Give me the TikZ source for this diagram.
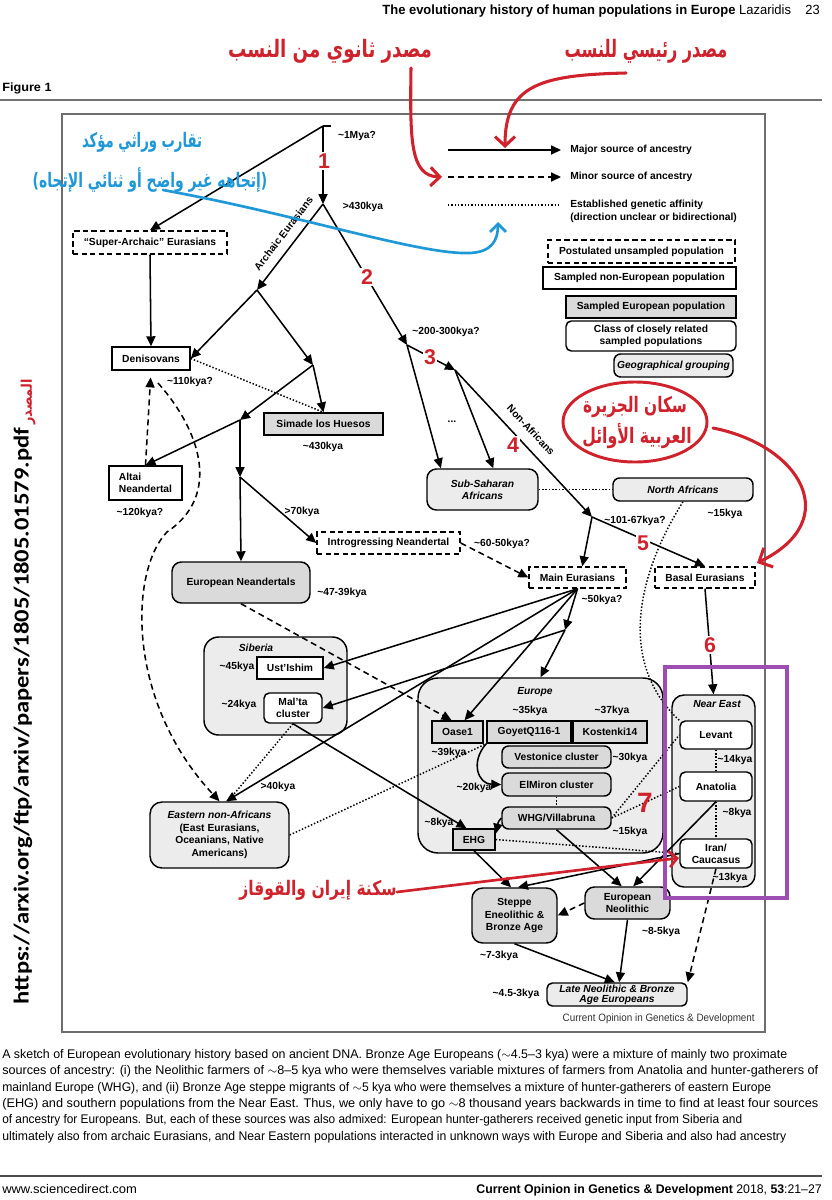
\documentclass[tikz,border=0pt]{standalone}
\usepackage{fontspec}
\usepackage{graphicx}
\setmainfont{Liberation Sans}
\newfontfamily\arabicfont[Script=Arabic]{DejaVu Sans}
\newfontfamily\urlfont{Carlito}
\TeXXeTstate=1
\usetikzlibrary{arrows.meta,calc,shapes.geometric}
\definecolor{annred}{RGB}{208,34,44}
\definecolor{annblue}{RGB}{30,152,214}
\definecolor{annpurple}{RGB}{156,78,178}
\definecolor{eugray}{RGB}{218,218,218}
\definecolor{patt}{RGB}{236,236,236}
\definecolor{framegray}{RGB}{110,110,110}
\newlength\fitlen
\newlength\fitlenb
\newsavebox\fitbox
\newcommand\fitto[2]{\sbox\fitbox{#2}\setlength\fitlen{#1}\setlength\fitlenb{\wd\fitbox}\pgfmathsetmacro\fitsc{\fitlen/\fitlenb}\scalebox{\fitsc}[1]{\usebox\fitbox}}
\newcommand\nf{\fontsize{7.7}{9.2}\selectfont\bfseries}
\newcommand\tld{\textasciitilde}
\tikzset{
 every node/.style={font=\nf, inner sep=0pt, align=center},
 sz/.style 2 args={minimum width=#1*0.75pt, minimum height=#2*0.75pt},
 bx/.style={draw, line width=1.1pt},
 unsamp/.style={bx, fill=white, dash pattern=on 4pt off 2.4pt},
 nonEU/.style={bx, fill=white},
 EU/.style={bx, fill=eugray},
 clsbox/.style={bx, fill=white, rounded corners=4pt},
 clsEU/.style={bx, fill=eugray, rounded corners=5pt},
 geo/.style={bx, fill=patt, rounded corners=5pt, font=\nf\itshape},
 grp/.style={bx, fill=patt},
 sarr/.style={line width=1.15pt, -{Triangle[length=7.5pt,width=6.8pt]}},
 darr/.style={sarr, dash pattern=on 4.5pt off 3pt},
 dotl/.style={line width=1.1pt, dash pattern=on 1.1pt off 1.4pt},
 rnum/.style={text=annred, font=\fontsize{16}{16}\selectfont\bfseries, fill=white, inner sep=1pt},
 ann/.style={line width=2.3pt, line cap=round},
 capl/.style={anchor=mid west},
}
\begin{document}
\begin{tikzpicture}[x=0.75pt,y=-0.75pt]
\useasboundingbox (0,0) rectangle (832,1200);
\fill[white] (0,0) rectangle (832,1200);

% ---------- page header ----------
\node[anchor=east] (hdr) at (820,11) {\fitto{328pt}{\fontsize{10}{12}\selectfont\textbf{The evolutionary history of human populations in Europe} \mdseries Lazaridis\hspace{1.1em}23}};
\node[anchor=west] (fig) at (2,88) {\fitto{37pt}{\fontsize{9}{11}\selectfont\bfseries Figure 1}};
\coordinate (hl0) at (0,100); \coordinate (hl1) at (822,100);
\draw[black!55, line width=1pt] (hl0) -- (hl1);

% ---------- frame ----------
\draw[framegray, line width=1pt] (62,114) rectangle (765,1032);
\node[anchor=east] (credit) at (755,1019) {\fitto{144pt}{\fontsize{8}{10}\selectfont\mdseries\color{black!80}Current Opinion in Genetics \& Development}};

% ---------- legend ----------
\coordinate (lg1a) at (448,150); \coordinate (lg1b) at (561,150);
\coordinate (lg2a) at (448,177); \coordinate (lg2b) at (561,177);
\coordinate (lg3a) at (448,205); \coordinate (lg3b) at (561,205);
\draw[sarr] (lg1a) -- (lg1b);
\draw[darr] (lg2a) -- (lg2b);
\draw[dotl] (lg3a) -- (lg3b);
\node[anchor=west] (lgt1) at (570,150) {Major source of ancestry};
\node[anchor=west] (lgt2) at (570,177) {Minor source of ancestry};
\node[anchor=west, align=left, font=\fontsize{7.7}{9.7}\selectfont\bfseries] (lgt3) at (570,211.5) {Established genetic affinity\\(direction unclear or bidirectional)};
\node[unsamp, sz={187}{23}] (lgp) at (641.5,251.5) {Postulated unsampled population};
\node[nonEU, sz={193}{22}] (lgn) at (639.5,278) {Sampled non-European population};
\node[EU, sz={170}{22}] (lge) at (651,307) {Sampled European population};
\node[clsbox, sz={170}{30}] (lgc) at (651,336) {Class of closely related\\sampled populations};
\node[geo, sz={119}{23}] (lgg) at (673.5,365.5) {Geographical grouping};

% ---------- group boxes ----------
\node[grp, rounded corners=11pt, sz={143}{98}] (siberia) at (275.5,686) {};
\node[font=\nf\itshape] (sibt) at (256,648) {Siberia};
\node[grp, rounded corners=15pt, sz={245}{175}] (europe) at (540.5,765.5) {};
\node[font=\nf\itshape] (eurt) at (535,692) {Europe};
\node[grp, rounded corners=9pt, sz={83}{192}] (neareast) at (713.5,791) {};
\node[font=\nf\itshape] (net) at (717,704) {Near East};

% ---------- population nodes ----------
\node[unsamp, sz={154}{23}] (superarch) at (150,242.5) {“Super-Archaic” Eurasians};
\node[nonEU, sz={78}{23}] (deniso) at (151,358.5) {Denisovans};
\node[EU, sz={119}{22}] (sima) at (323.5,424) {Simade los Huesos};
\node[nonEU, sz={73}{34}, align=left] (altai) at (145.5,483) {Altai\\Neandertal};
\node[clsEU, rounded corners=7pt, sz={138}{41}] (eurnean) at (241,582.5) {European Neandertals};
\node[unsamp, sz={143}{22}] (intro) at (388.5,543) {Introgressing Neandertal};
\node[unsamp, sz={97}{21}] (maineur) at (577.5,577.5) {Main Eurasians};
\node[unsamp, sz={100}{21}] (basal) at (705,577.5) {Basal Eurasians};
\node[geo, rounded corners=7pt, sz={111}{41}] (subsah) at (482.5,489.5) {Sub-Saharan\\Africans};
\node[geo, sz={140}{23}] (northaf) at (683,489.5) {North Africans};
\node[nonEU, sz={66}{22}] (ustishim) at (290,668) {Ust’Ishim};
\node[clsbox, sz={58}{30}] (malta) at (293,708) {Mal’ta\\cluster};
\node[grp, rounded corners=9pt, sz={139}{66}, font=\fontsize{7.7}{9.4}\selectfont\bfseries] (eastnon) at (219.5,835) {{\itshape Eastern non-Africans}\\(East Eurasians,\\Oceanians, Native\\Americans)};
\node[EU, sz={51}{22}] (oase) at (457.5,732) {Oase1};
\node[EU, sz={84}{22}] (goyet) at (529,732) {GoyetQ116-1};
\node[EU, sz={74}{22}] (kost) at (610,732) {Kostenki14};
\node[clsEU, sz={109}{22}] (vest) at (556.5,757) {Vestonice cluster};
\node[clsEU, sz={109}{23}] (elmiron) at (556.5,784.5) {ElMiron cluster};
\node[clsEU, sz={109}{22}] (whg) at (556.5,818) {WHG/Villabruna};
\node[EU, sz={42}{21}] (ehg) at (474,839.5) {EHG};
\node[clsbox, sz={72}{28}] (levant) at (716,735) {Levant};
\node[clsbox, sz={72}{29}] (anatolia) at (716,786.5) {Anatolia};
\node[clsbox, sz={72}{29}] (iran) at (716,853.5) {Iran/\\Caucasus};
\node[clsEU, rounded corners=8pt, sz={85}{55}] (steppe) at (514.5,915.5) {Steppe\\Eneolithic \&\\Bronze Age};
\node[clsEU, rounded corners=7pt, sz={85}{32}] (eurneo) at (627.5,903) {European\\Neolithic};
\node[geo, rounded corners=4pt, sz={140}{23}, font=\fontsize{7.7}{7.7}\selectfont\bfseries\itshape] (lateneo) at (617,994.5) {Late Neolithic \& Bronze\\Age Europeans};

% ---------- time labels ----------
\node (l1mya) at (357,136) {\tld1Mya?};
\node (l430) at (363,207) {>430kya};
\node (l200) at (446,332) {\tld200-300kya?};
\node (l110) at (190,382) {\tld110kya?};
\node (l430b) at (323,447) {\tld430kya};
\node (l120) at (140,513) {\tld120kya?};
\node (l70) at (302,512) {>70kya};
\node (l6050) at (502,544) {\tld60-50kya?};
\node (l4739) at (342,593) {\tld47-39kya};
\node (l50) at (602,600) {\tld50kya?};
\node (l10167) at (635,521) {\tld101-67kya?};
\node (l15a) at (725,514) {\tld15kya};
\node (l45) at (237,667) {\tld45kya};
\node (l24) at (239,705) {\tld24kya};
\node (l40) at (278,787) {>40kya};
\node (l35) at (530,711) {\tld35kya};
\node (l37) at (612,711) {\tld37kya};
\node (l39) at (449,753) {\tld39kya};
\node (l30) at (630,758) {\tld30kya};
\node (l20) at (474,788) {\tld20kya};
\node (l8a) at (439,823) {\tld8kya};
\node (l15b) at (630,832) {\tld15kya};
\node (l14) at (735,760) {\tld14kya};
\node (l8b) at (737,813) {\tld8kya};
\node (l13) at (730,878) {\tld13kya};
\node (l85) at (661,932) {\tld8-5kya};
\node (l73) at (499,956) {\tld7-3kya};
\node (l453) at (516,994) {\tld4.5-3kya};
\node (dots) at (452,422) {...};
\node[rotate=52.5] (archlab) at (283.5,233.5) {Archaic Eurasians};
\node[rotate=-47] (nonaflab) at (531,430) {Non-Africans};

% ---------- branch points ----------
\coordinate (root) at (323,126);
\coordinate (rootr) at (331,126);
\coordinate (A) at (323,204);
\coordinate (B) at (257,290);
\coordinate (C) at (407,345);
\coordinate (D) at (313,365);
\coordinate (E) at (240,420);
\coordinate (F) at (240,477);
\coordinate (G) at (455,370);
\coordinate (H) at (592,517);
\coordinate (I) at (565,630);
\coordinate (dc0) at (158,383);

% ---------- connectors ----------
\draw[line width=1.1pt] (root) -- (rootr);
\draw[sarr] (root) -- (A);
\draw[sarr] (root) -- (superarch.north);
\draw[sarr] (A) -- (B);
\draw[sarr] (A) -- (C);
\draw[sarr] (superarch.south) -- (deniso.north);
\draw[sarr] (B) -- (deniso.east);
\draw[sarr] (B) -- (D);
\draw[sarr] (D) -- (sima.north);
\draw[sarr] (D) -- (E);
\draw[sarr] (E) -- (altai.north);
\draw[sarr] (E) -- (F);
\draw[sarr] (F) -- (eurnean.north);
\draw[sarr] (F) -- (intro.west);
\draw[dotl] (deniso.east) -- (sima.north);
\draw[darr, shorten >=5pt] (altai.north) -- (deniso.south);
\draw[darr] (dc0) .. controls (200,430) and (222,495) .. (167,532) .. controls (130,570) and (125,700) .. (eastnon.north);
\draw[darr] (intro.east) -- (maineur.west);
\draw[sarr] (C) -- (subsah.153);
\draw[sarr] (C) -- (G);
\draw[sarr] (G) -- (subsah.63);
\draw[sarr] (G) -- (H);
\draw[dotl] (subsah.east) -- (northaf.west);
\draw[sarr] (H) -- (maineur.67);
\draw[sarr] (H) -- (basal.north);
\draw[sarr] (basal.south) -- (neareast.north);
\draw[dotl] (northaf.south) .. controls (640,570) and (615,660) .. (levant.north west);
\draw[sarr] (maineur.south) -- (ustishim.east);
\draw[sarr] (maineur.south) -- (eastnon.79);
\draw[sarr] (maineur.south) -- (oase.59);
\draw[sarr] (maineur.south) -- (I);
\draw[sarr] (I) -- (europe.north);
\draw[sarr] (I) -- (malta.east);
\draw[darr] (eurnean.south) -- (oase.117);
\draw[dotl] (malta.south) -- (eastnon.76);
\draw[sarr] (malta.south) -- (ehg.124);
\draw[dotl] (eastnon.east) -- (goyet.south west);
\draw[sarr] (goyet.south west) .. controls (470,762) and (478,784) .. (elmiron.west);
\draw[dotl] (elmiron.south) -- (whg.north);
\draw[sarr] (whg.west) .. controls (497,822) and (497,828) .. (ehg.15);
\draw[dotl] (ehg.east) -- (iran.west);
\draw[dotl] (whg.east) -- (levant.west);
\draw[dotl] (whg.east) -- (anatolia.west);
\draw[dotl] (levant.south) -- (anatolia.north);
\draw[dotl] (anatolia.south) -- (iran.north);
\draw[sarr] (ehg.south) -- (steppe.97);
\draw[sarr] (whg.south) -- (eurneo.109);
\draw[sarr] (anatolia.south) -- (eurneo.71);
\draw[sarr] (iran.west) -- (steppe.83);
\draw[darr] (eurneo.west) -- (steppe.east);
\draw[sarr] (steppe.south) -- (lateneo.100);
\draw[sarr] (eurneo.south) -- (lateneo.80);
\draw[darr] (iran.south) -- (lateneo.north east);

% ---------- red step numbers ----------
\node[rnum] (n1) at (324,161) {1};
\node[rnum] (n2) at (367,277) {2};
\node[rnum] (n3) at (430,357) {3};
\node[rnum] (n4) at (513,445) {4};
\node[rnum] (n5) at (643,543) {5};
\node[rnum] (n6) at (710,645) {6};
\node[rnum, fill=none, font=\fontsize{21}{21}\selectfont\bfseries] (n7) at (645,803) {7};

% ---------- annotations ----------
\node[text=annred] (ar1) at (330,51) {\fitto{153pt}{\arabicfont\bfseries\fontsize{18}{20}\selectfont\beginR مصدر ثانوي من النسب\endR}};
\node[text=annred] (ar2) at (646,51) {\fitto{122pt}{\arabicfont\bfseries\fontsize{18}{20}\selectfont\beginR مصدر رئيسي للنسب\endR}};
\coordinate (ra0) at (411,68); \coordinate (ra1) at (442,177);
\draw[ann, annred, -{Straight Barb[length=7pt,width=14pt]}] (ra0) .. controls (410,140) and (410,176) .. (ra1);
\coordinate (rb0) at (626,73); \coordinate (rb1) at (505,148);
\draw[ann, annred, -{Straight Barb[length=7pt,width=15pt]}] (rb0) .. controls (540,75) and (505,85) .. (rb1);

\node[text=annblue] (bl1) at (142,142) {\fitto{90pt}{\arabicfont\bfseries\fontsize{15}{18}\selectfont\beginR تقارب وراثي مؤكد\endR}};
\node[text=annblue] (bl2) at (150,180) {\fitto{176pt}{\arabicfont\bfseries\fontsize{15}{18}\selectfont\beginR (إتجاهه غير واضح أو ثنائي الإتجاه)\endR}};
\coordinate (ba0) at (163,190); \coordinate (ba1) at (470,253); \coordinate (ba2) at (498,222);
\draw[ann, annblue, line width=2pt, -{Straight Barb[length=6pt,width=12pt]}] (ba0) .. controls (300,215) and (420,255) .. (ba1) .. controls (492,252) and (498,240) .. (ba2);

\node[draw=annred, line width=2.2pt, ellipse, sz={144}{80}] (ell) at (635,422) {};
\node[text=annred] (el1) at (635,407) {\fitto{78pt}{\arabicfont\bfseries\fontsize{16}{18}\selectfont\beginR سكان الجزيرة\endR}};
\node[text=annred] (el2) at (637,436) {\fitto{82pt}{\arabicfont\bfseries\fontsize{16}{18}\selectfont\beginR العربية الأوائل\endR}};
\coordinate (re0) at (713,428); \coordinate (re1) at (757,563);
\draw[ann, annred, -{Straight Barb[length=8pt,width=16pt]}] (re0) .. controls (800,445) and (845,520) .. (re1);

\draw[annpurple, line width=3pt] (665,667) rectangle (787,898);

\node[text=annred] (ir) at (318,890) {\fitto{118pt}{\arabicfont\bfseries\fontsize{15}{18}\selectfont\beginR سكنة إيران والقوقاز\endR}};
\coordinate (rc0) at (397,892); \coordinate (rc1) at (679,858);
\draw[ann, annred, line width=2pt, -{Straight Barb[length=6pt,width=12pt]}] (rc0) -- (rc1);

% ---------- side source ----------
\node[rotate=90] (url) at (23,716) {\fitto{432pt}{\urlfont\bfseries\fontsize{16}{18}\selectfont https://arxiv.org/ftp/arxiv/papers/1805/1805.01579.pdf}};
\node[rotate=90, text=annred] (src) at (28,402) {\fitto{34pt}{\arabicfont\fontsize{11}{13}\selectfont\beginR المصدر\endR}};

% ---------- caption ----------
\node[capl] (c1) at (2,1055) {\fitto{588.75pt}{\fontsize{9.4}{11}\selectfont\mdseries A sketch of European evolutionary history based on ancient DNA. Bronze Age Europeans ($\sim$4.5–3 kya) were a mixture of mainly two proximate}};
\node[capl] (c2) at (2,1071.3) {\fitto{612pt}{\fontsize{9.4}{11}\selectfont\mdseries sources of ancestry: (i) the Neolithic farmers of $\sim$8–5 kya who were themselves variable mixtures of farmers from Anatolia and hunter-gatherers of}};
\node[capl] (c3) at (2,1087.6) {\fitto{576.75pt}{\fontsize{9.4}{11}\selectfont\mdseries mainland Europe (WHG), and (ii) Bronze Age steppe migrants of $\sim$5 kya who were themselves a mixture of hunter-gatherers of eastern Europe}};
\node[capl] (c4) at (2,1103.9) {\fitto{612pt}{\fontsize{9.4}{11}\selectfont\mdseries (EHG) and southern populations from the Near East. Thus, we only have to go $\sim$8 thousand years backwards in time to find at least four sources}};
\node[capl] (c5) at (2,1120.2) {\fitto{555pt}{\fontsize{9.4}{11}\selectfont\mdseries of ancestry for Europeans. But, each of these sources was also admixed: European hunter-gatherers received genetic input from Siberia and}};
\node[capl] (c6) at (2,1136.5) {\fitto{588pt}{\fontsize{9.4}{11}\selectfont\mdseries ultimately also from archaic Eurasians, and Near Eastern populations interacted in unknown ways with Europe and Siberia and also had ancestry}};

% ---------- footer ----------
\coordinate (fl0) at (0,1176); \coordinate (fl1) at (822,1176);
\draw[black!70, line width=1pt] (fl0) -- (fl1);
\node[capl] (f1) at (2,1190) {\fitto{101pt}{\fontsize{9.4}{11}\selectfont\mdseries www.sciencedirect.com}};
\node[anchor=mid east] (f2) at (822,1190) {\fitto{259pt}{\fontsize{9.4}{11}\selectfont\textbf{Current Opinion in Genetics \& Development} \mdseries 2018, \textbf{53}:21–27}};
\end{tikzpicture}
\end{document}
